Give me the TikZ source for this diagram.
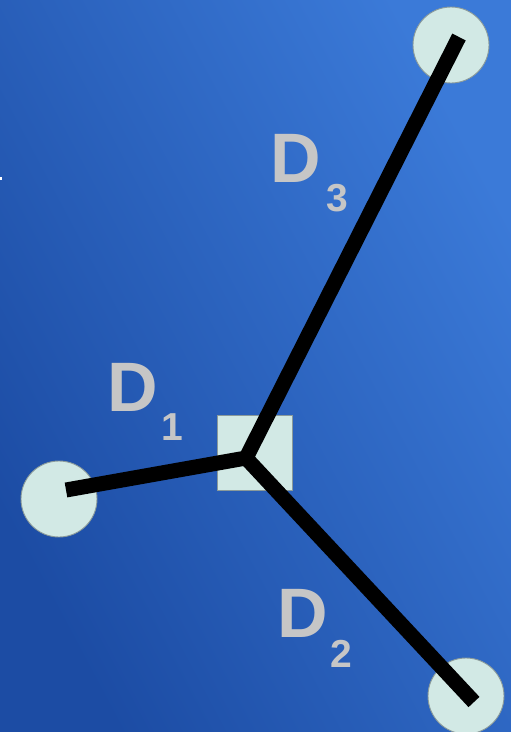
\documentclass[tikz,border=0pt]{standalone}
\usepackage{fontspec}
\setmainfont{Liberation Sans}
\definecolor{bgdark}{HTML}{1C4CA4}
\definecolor{bglight}{HTML}{3B7AD8}
\definecolor{nodefill}{HTML}{D2E9E5}
\definecolor{nodeline}{HTML}{8A9A9A}
\definecolor{labelgrey}{HTML}{C6C6C6}
\tikzset{
  endpoint/.style={circle, draw=nodeline, line width=0.9pt, fill=nodefill, minimum size=76pt, inner sep=0pt},
  center box/.style={rectangle, draw=nodeline, line width=0.9pt, fill=nodefill, minimum size=75pt, inner sep=0pt},
  link/.style={line width=15pt, black, line cap=butt, line join=miter},
  bigD/.style={font=\bfseries\fontsize{70}{70}\selectfont, text=labelgrey, inner sep=0pt},
  subnum/.style={font=\bfseries\fontsize{39}{39}\selectfont, text=labelgrey, inner sep=0pt}
}
\begin{document}
\begin{tikzpicture}[x=1pt,y=-1pt]
\useasboundingbox (0,0) rectangle (511,732);
\shade[top color=bglight, bottom color=bgdark, shading angle=-62] (0,0) rectangle (511,732);
\fill[white] (0,176.5) rectangle (1.5,179.5);
% nodes
\node[endpoint] (c1) at (59,499) {};
\node[endpoint] (c3) at (451,45) {};
\node[endpoint] (c2) at (466,696) {};
\node[center box] (sq) at (254.7,453) {};
% connector ends
\coordinate (j) at (246,458);
\coordinate (e1) at (66,490);
\coordinate (e3) at (459,37);
\coordinate (e2) at (474,702);
\draw[link] (e1) -- (j) -- (e3);
\draw[link] (j) -- (e2);
% labels
\node[bigD] (d1) at (132.3,387.7) {D};
\node[subnum] (s1) at (172.5,427.3) {1};
\node[bigD] (d3) at (295.5,158) {D};
\node[subnum] (s3) at (337.3,198.5) {3};
\node[bigD] (d2) at (303,613) {D};
\node[subnum] (s2) at (341.3,653.5) {2};
\end{tikzpicture}
\end{document}
